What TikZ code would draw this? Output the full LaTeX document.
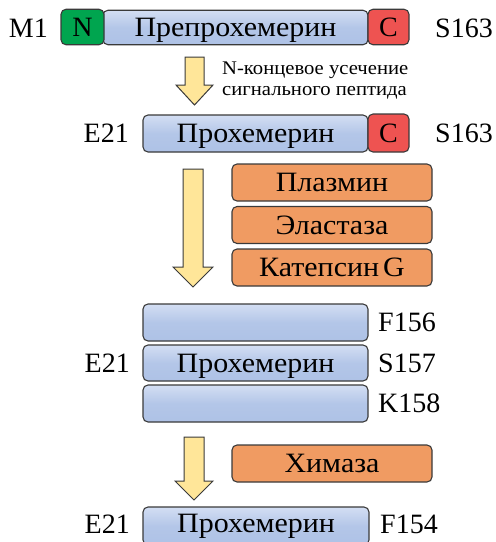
\documentclass[tikz,border=0pt]{standalone}
\usepackage{fontspec}
\setmainfont{Liberation Serif}
\newfontfamily\boxfont{Liberation Serif}[FakeStretch=1.07]
\definecolor{edge}{HTML}{3A3A3A}
\definecolor{blueTop}{HTML}{D3DEF3}
\definecolor{blueBot}{HTML}{AEC2E6}
\definecolor{greenN}{HTML}{00A54F}
\definecolor{redC}{HTML}{EE5351}
\definecolor{enzyme}{HTML}{F09B62}
\definecolor{arrowfill}{HTML}{FFE699}
\begin{document}
\begin{tikzpicture}[x=1pt,y=-1pt,
  every node/.style={inner sep=0pt},
  big/.style={font=\fontsize{28}{30}\selectfont},
  small/.style={font=\boxfont\fontsize{19.3}{21}\selectfont},
  boxtext/.style={big, text height=18.5pt, text depth=0pt},
  inbox/.style={boxtext, font=\boxfont\fontsize{28}{30}\selectfont},
  protein/.style={inbox, draw=edge, line width=1.1pt, rounded corners=5pt,
    top color=blueTop, bottom color=blueBot, middle color=blueBot!85!blueTop},
  terminus/.style={boxtext, draw=edge, line width=1.1pt, rounded corners=5pt,
    minimum height=35.5pt},
  enzymebox/.style={inbox, draw=edge, line width=1.1pt, rounded corners=5pt,
    fill=enzyme, minimum width=200pt, minimum height=37pt},
  fatarrow/.style={fill=arrowfill, draw=edge, line width=1pt, line join=miter},
  lbl/.style={boxtext}
]
\useasboundingbox (0,0) rectangle (496,542);

% preprochemerin
\node[protein, minimum width=265pt, minimum height=34.5pt] (pre) at (235.5,27.5) {Препрохемерин};
\node[terminus, fill=greenN, minimum width=43pt] (nterm) at (82.5,27) {N};
\node[terminus, fill=redC, minimum width=41pt] (cterm1) at (388.5,27) {C};
\node[lbl, anchor=east] (m1) at (48,28) {M1};
\node[lbl, anchor=west] (s163a) at (435,28) {S163};

% signal peptide removal
\draw[fatarrow] (185,57) -- (204,57) -- (204,85) -- (213,85) -- (194.5,105)
  -- (176,85) -- (185,85) -- cycle;
\node[small, anchor=west, align=left] (sig) at (222,81)
  {N-концевое усечение\\сигнального пептида};

% prochemerin
\node[protein, minimum width=225pt, minimum height=37pt] (pro) at (255.5,133.5) {Прохемерин};
\node[terminus, fill=redC, minimum width=41pt, minimum height=38pt] (cterm2) at (388.5,133) {C};
\node[lbl, anchor=east] (e21a) at (129,133) {E21};
\node[lbl, anchor=west] (s163b) at (435,133) {S163};

% first cleavage step
\draw[fatarrow] (183,169) -- (203,169) -- (203,267) -- (213,267) -- (193,287)
  -- (173,267) -- (183,267) -- cycle;
\node[enzymebox] (plasmin) at (332,182.5) {Плазмин};
\node[enzymebox] (elastase) at (332,225) {Эластаза};
\node[enzymebox] (catg) at (332,267.5) {Катепсин\kern4pt G};

% processed forms
\node[protein, minimum width=225pt, minimum height=37pt] (f156) at (255.5,322.5) {};
\node[protein, minimum width=225pt, minimum height=36pt] (s157) at (255.5,363) {Прохемерин};
\node[protein, minimum width=225pt, minimum height=37pt] (k158) at (255.5,403.5) {};
\node[lbl, anchor=west] (lf156) at (378,322) {F156};
\node[lbl, anchor=west] (ls157) at (378,363) {S157};
\node[lbl, anchor=west] (lk158) at (378,403) {K158};
\node[lbl, anchor=east] (e21b) at (130,363) {E21};

% second cleavage step
\draw[fatarrow] (184,437) -- (204,437) -- (204,481) -- (213,481) -- (194,500)
  -- (175,481) -- (184,481) -- cycle;
\node[enzymebox] (chymase) at (332,463.5) {Химаза};

% final form, running past the lower edge
\node[protein, minimum width=226pt, minimum height=38pt, text depth=4.6pt] (f154box) at (256,526) {Прохемерин};
\node[lbl, anchor=east] (e21c) at (130,524) {E21};
\node[lbl, anchor=west] (lf154) at (380,524) {F154};
\end{tikzpicture}
\end{document}
